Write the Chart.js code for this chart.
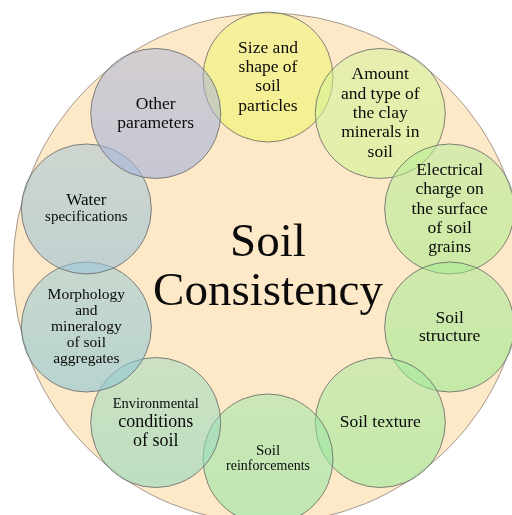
<!DOCTYPE html>
<html>
<head>
<meta charset="utf-8">
<script src="https://cdn.jsdelivr.net/npm/chart.js@4/dist/chart.umd.min.js"></script>
<style>
  body { margin: 0; background: #ffffff; }
  #wrap { width: 512px; height: 515px; }
</style>
</head>
<body>
<div id="wrap"><canvas id="myChart" width="512" height="515"></canvas></div>
<script>
// ------- DATA -------
const title = ['Soil', 'Consistency'];

// one entry per circle, clockwise from the top
const labels = [
    ['Size and', 'shape of', 'soil', 'particles'],
    ['Amount', 'and type of', 'the clay', 'minerals in', 'soil'],
    ['Electrical', 'charge on', 'the surface', 'of soil', 'grains'],
    ['Soil', 'structure'],
    ['Soil texture'],
    ['Soil', 'reinforcements'],
    ['Environmental', 'conditions', 'of soil'],
    ['Morphology', 'and', 'mineralogy', 'of soil', 'aggregates'],
    ['Water', 'specifications'],
    ['Other', 'parameters']
];
const lineSizes = [
    [17.5, 17.5, 17.5, 17.5],
    [17.5, 17.5, 17.5, 17.5, 17.5],
    [17.5, 17.5, 17.5, 17.5, 17.5],
    [17.5, 17.5],
    [17.5],
    [15, 14],
    [14.5, 18, 18],
    [15.5, 15.5, 15.5, 15.5, 15.5],
    [17, 15],
    [17.5, 17.5]
];
const lineHeights = [19.3, 19.3, 19.3, 18, 19, 15.5, 18.5, 16, 17, 19];

// base colour of each circle (drawn half transparent on the peach disc)
const circleColors = [
    [238, 246, 110],
    [208, 244, 150],
    [176, 236, 145],
    [160, 234, 145],
    [160, 234, 154],
    [151, 230, 164],
    [151, 217, 188],
    [142, 199, 212],
    [156, 194, 214],
    [164, 178, 218]
];

// ------- LAYOUT -------
const ringRadius = 191;
const circleRadius = 65;
const discRadius = 255;

const circlePoints = labels.map(function(l, i) {
    const a = (90 - i * 36) * Math.PI / 180;
    return { x: ringRadius * Math.cos(a), y: ringRadius * Math.sin(a), r: circleRadius };
});

function circleFill(c) {
    const col = circleColors[c.dataIndex] || [200, 200, 200];
    const solid = 'rgba(' + col.join(',') + ',0.55)';
    const ch = c.chart;
    if (!ch.chartArea || !c.raw || !ch.scales.y) return solid;
    const py = ch.scales.y.getPixelForValue(c.raw.y);
    if (!isFinite(py)) return solid;
    const g = ch.ctx.createLinearGradient(0, py - circleRadius, 0, py + circleRadius);
    g.addColorStop(0, 'rgba(' + col.join(',') + ',0.48)');
    g.addColorStop(1, 'rgba(' + col.join(',') + ',0.62)');
    return g;
}

// labels inside circles + centre title
const textPlugin = {
    id: 'textPlugin',
    afterDatasetsDraw(chart) {
        const ctx = chart.ctx;
        const meta = chart.getDatasetMeta(0);
        ctx.save();
        ctx.fillStyle = '#0a0a0a';
        ctx.textAlign = 'center';
        ctx.textBaseline = 'middle';
        meta.data.forEach(function(el, i) {
            const lines = labels[i];
            const lh = lineHeights[i];
            lines.forEach(function(line, j) {
                ctx.font = lineSizes[i][j] + 'px "Liberation Serif", "Times New Roman", serif';
                const y = el.y + (j - (lines.length - 1) / 2) * lh;
                ctx.fillText(line, el.x, y);
            });
        });

        const center = chart.getDatasetMeta(1).data[0];
        ctx.font = '47px "Liberation Serif", "Times New Roman", serif';
        ctx.textBaseline = 'alphabetic';
        ctx.fillText(title[0], center.x, 256);
        ctx.fillText(title[1], center.x, 305);
        ctx.restore();
    }
};

// config
const config = {
    type: 'bubble',
    data: {
        datasets: [{
            label: 'Factors',
            data: circlePoints,
            backgroundColor: circleFill,
            borderColor: 'rgba(100,100,100,0.8)',
            borderWidth: 1,
            hoverBorderWidth: 1,
            clip: false
        }, {
            label: 'Disc',
            data: [{ x: 0, y: 0, r: discRadius }],
            backgroundColor: '#fde8c8',
            borderColor: 'rgba(140,130,120,0.8)',
            borderWidth: 1,
            clip: false
        }]
    },
    options: {
        responsive: false,
        animation: false,
        events: [],
        // bubbles would otherwise pad the chart area by their radius
        layout: { padding: 0, autoPadding: false },
        plugins: {
            legend: { display: false },
            tooltip: { enabled: false }
        },
        scales: {
            x: { type: 'linear', min: -268, max: 244, display: false },
            y: { type: 'linear', min: -247, max: 268, display: false }
        }
    },
    plugins: [textPlugin]
};

const myChart = new Chart(document.getElementById('myChart'), config);
</script>
</body>
</html>
